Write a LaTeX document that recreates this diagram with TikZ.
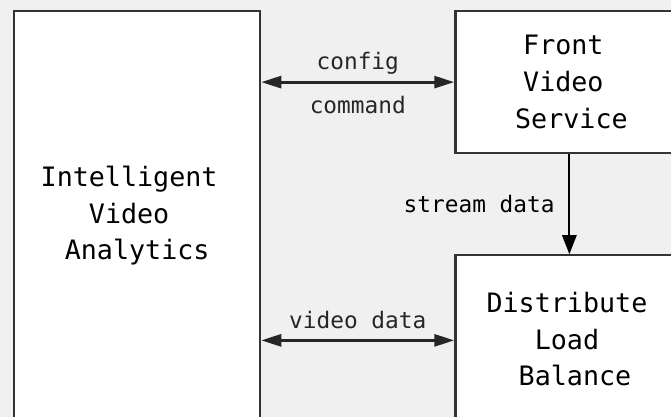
\documentclass[tikz,border=0pt]{standalone}
\usepackage{fontspec}
\setmainfont{DejaVu Sans Mono}
\usetikzlibrary{positioning, calc, arrows.meta}

\definecolor{canvas}{HTML}{F0F0F0}
\definecolor{edge}{HTML}{333333}
\newcommand{\padchar}{\hphantom{x}}

\begin{document}
\begin{tikzpicture}[
    >={Triangle[length=0.5cm,width=0.3cm]},
    box/.style={draw=edge,line width=1.6pt,fill=white},
    boxtext/.style={align=center,font=\fontsize{19}{26}\selectfont},
    flow/.style={font=\fontsize{16.2}{20}\selectfont}]

    \path[use as bounding box, fill=canvas] (0,0) rectangle (16.775,10.425);
    \clip (0,0) rectangle (16.775,10.425);

    \node (analytics) at (0.325,10.175) [box,anchor=north west,minimum width=6.15cm,minimum height=10.7cm] {};

    \node[right=4.825cm of analytics.north east, anchor=north west] (front) [box,minimum width=5.7cm,minimum height=3.55cm] {};

    \node[below=2.5cm of front.south west, anchor=north west] (balance) [box,minimum width=5.7cm,minimum height=4.25cm] {};

    \draw[<->, line width=2pt, black!85] (front.west -| analytics.east) -- node[flow, above=1pt] {config} node[flow, below=6pt] {command} (front.west);
    \draw[<->, line width=2pt, black!85] (balance.west -| analytics.east) -- node[flow, above=4pt] {video data} (balance.west);
    \draw[-{Triangle[length=0.48cm,width=0.36cm]}, line width=1.4pt] (front) -- node[flow, left=6.5pt] {stream data} (balance);

    \node[xshift=-0.2cm, below=5.15cm of analytics.north, anchor=center] (analytics label) [boxtext] {Intelligent\\Video\\\padchar Analytics};
    \node[xshift=-0.15cm, below=1.8cm of front.north, anchor=center] (front label) [boxtext] {Front\\Video\\\padchar Service};
    \node[xshift=-0.06cm, below=2.125cm of balance.north, anchor=center] (balance label) [boxtext] {Distribute\\Load\\\padchar Balance};
\end{tikzpicture}
\end{document}
